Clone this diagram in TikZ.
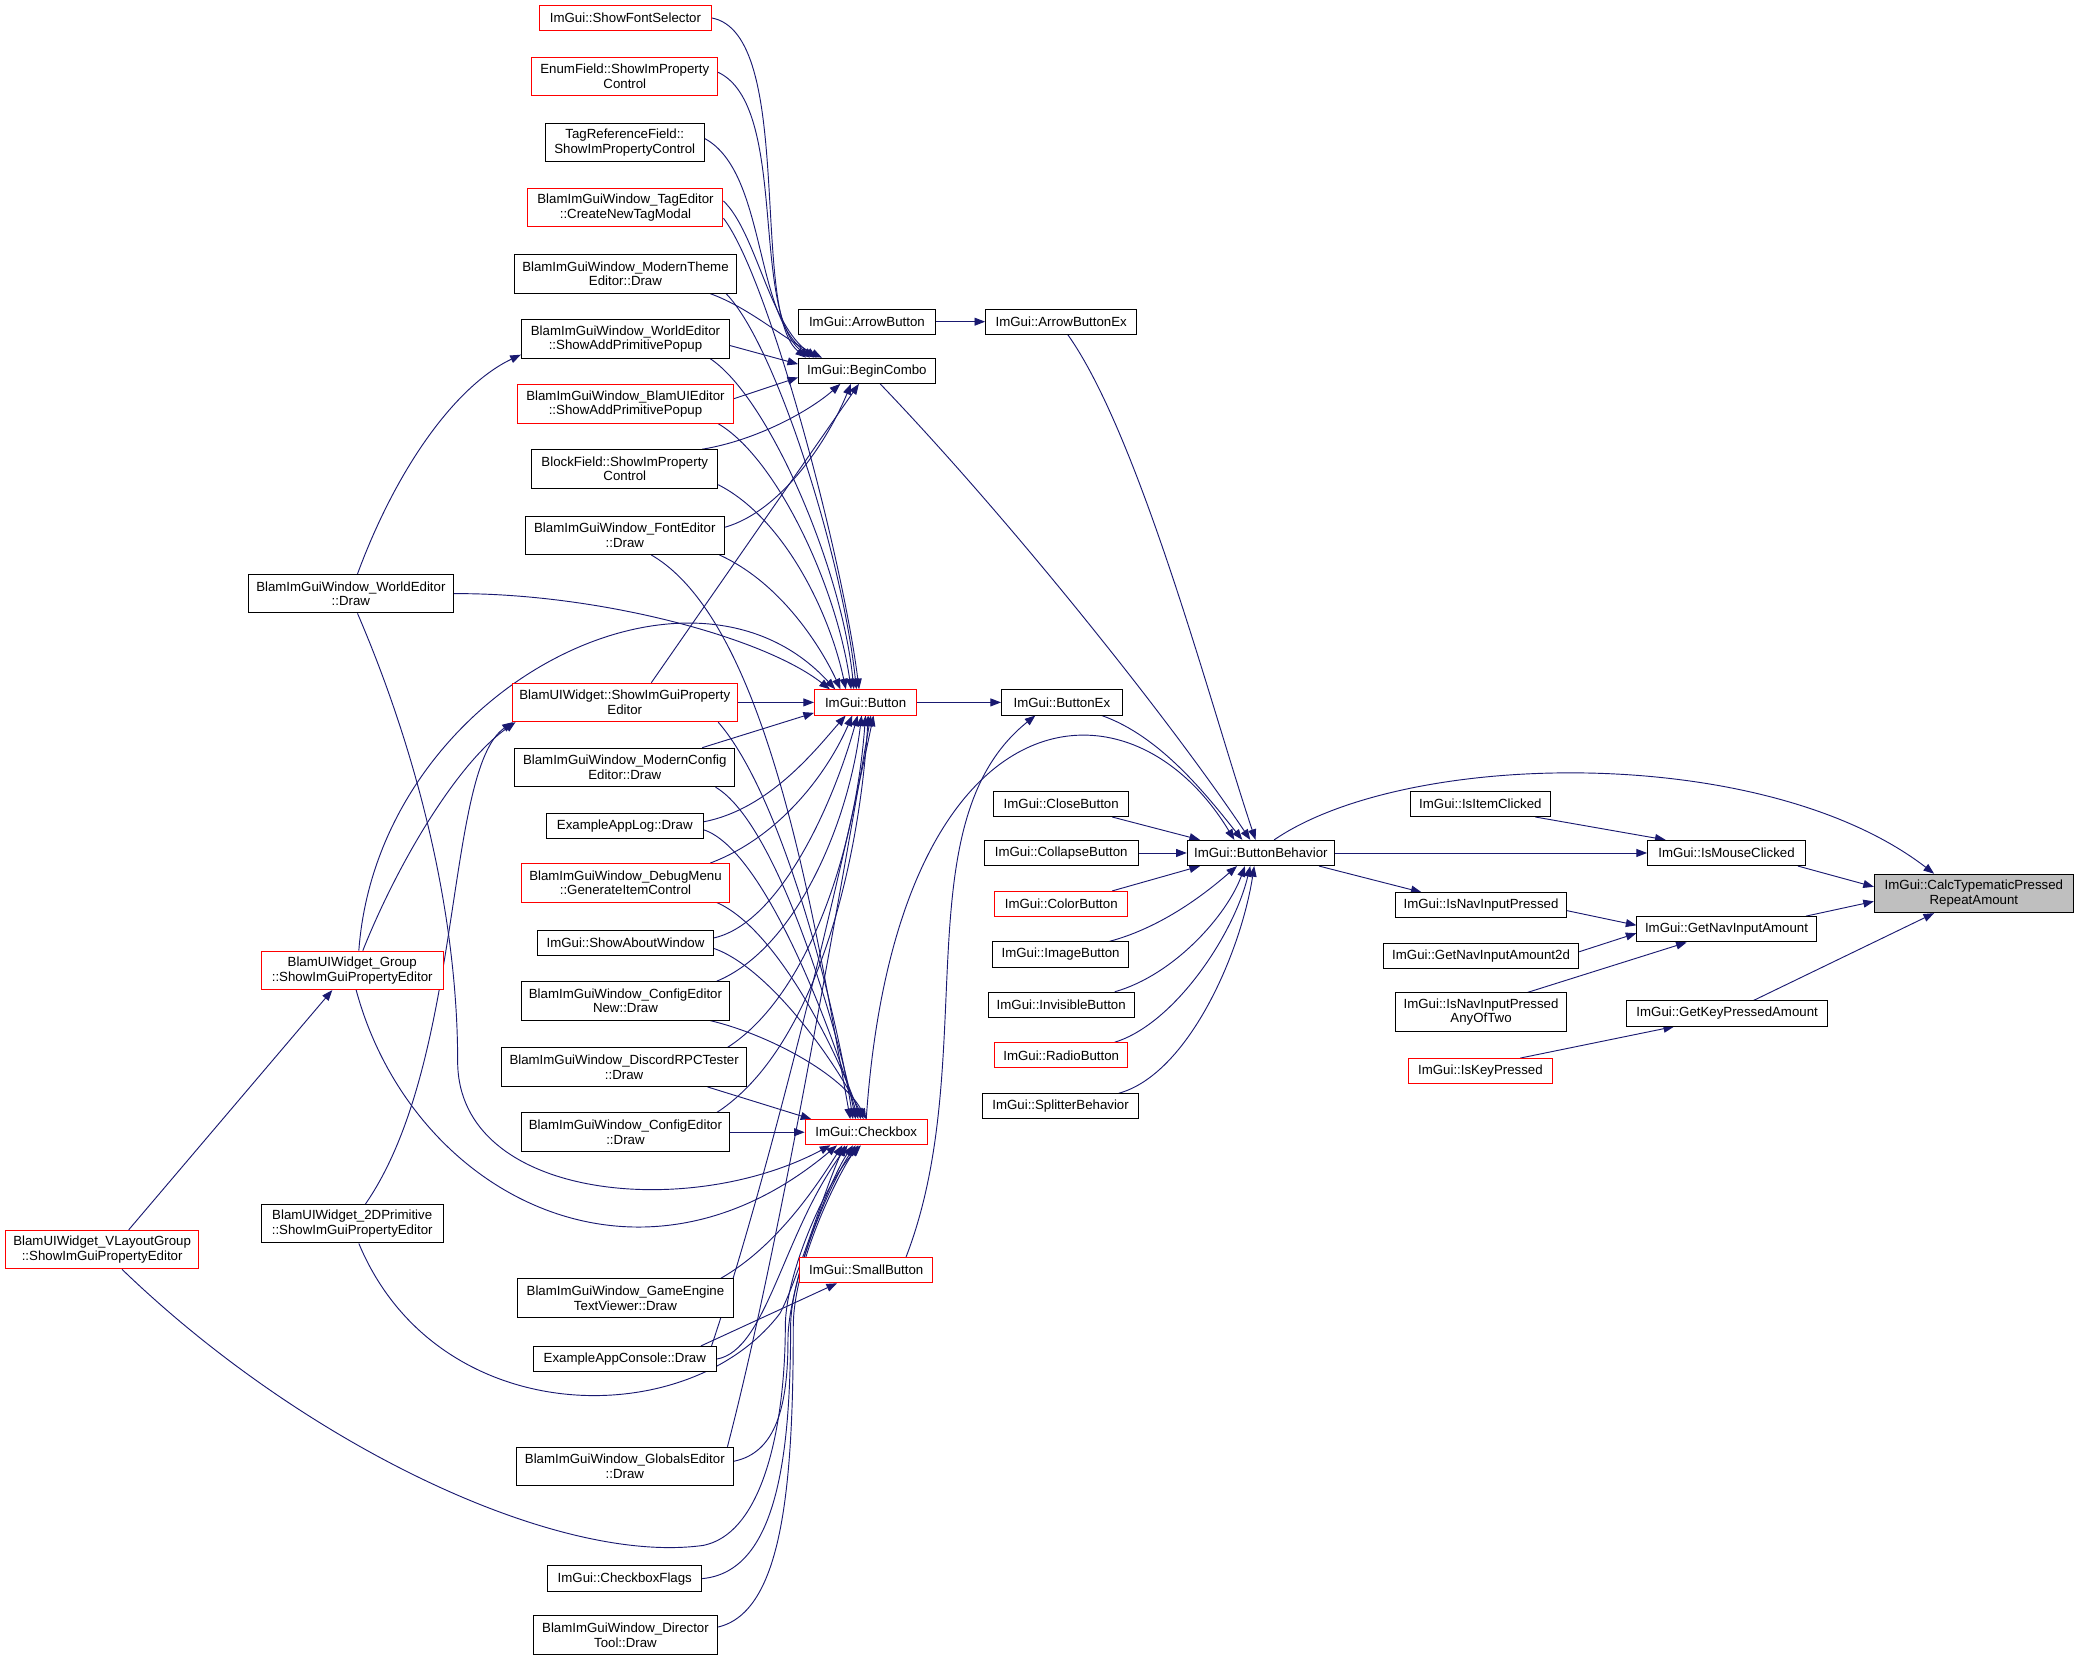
\documentclass[tikz,border=0pt]{standalone}
\usepackage{fontspec}
\setmainfont{Liberation Sans}
\usetikzlibrary{arrows.meta,backgrounds}
\tikzset{>={Triangle[length=8pt,width=6pt]}}
\definecolor{edgeblue}{HTML}{191970}
\definecolor{rootgray}{HTML}{BFBFBF}

\begin{document}
\begin{tikzpicture}[x=1pt,y=-1pt]
\tikzset{
  fn/.style={
    draw=black,
    line width=0.75pt,
    fill=white,
    align=center,
    inner sep=0pt,
    minimum height=19pt,
    font=\fontsize{10}{11}\selectfont
  },
  fnn/.style={fn, minimum height=29pt},
  trunc/.style={draw=red},
  root/.style={fill=rootgray}
};

\tikzstyle{call}=[->,draw=edgeblue,line width=0.7pt]

\useasboundingbox (0,0) rectangle (1568,1253.6);

 \node[fnn,root,minimum width=150pt] (calc) at (1488,673.5) {ImGui::CalcTypematicPressed\\RepeatAmount};
 \node[fn,minimum width=119pt] (mouse) at (1301.5,643) {ImGui::IsMouseClicked};
 \node[fn,minimum width=135pt] (navamt) at (1301.5,700.5) {ImGui::GetNavInputAmount};
 \node[fn,minimum width=152pt] (keyamt) at (1302,764) {ImGui::GetKeyPressedAmount};

 \node[fn,minimum width=106pt] (itemclk) at (1116,606) {ImGui::IsItemClicked};
 \node[fn,minimum width=129pt] (navpress) at (1116.5,682.5) {ImGui::IsNavInputPressed};
 \node[fn,minimum width=147pt] (navtwod) at (1116.5,720.5) {ImGui::GetNavInputAmount2d};
 \node[fnn,minimum width=129pt] (anyoftwo) at (1116.5,763) {ImGui::IsNavInputPressed\\AnyOfTwo};
 \node[fn,trunc,minimum width=108pt] (keypress) at (1116,807.5) {ImGui::IsKeyPressed};

 \node[fn,minimum width=111pt] (behavior) at (950.5,643) {ImGui::ButtonBehavior};

 \node[fn,minimum width=114pt] (arrowex) at (800,242.5) {ImGui::ArrowButtonEx};
 \node[fn,minimum width=91pt] (buttonex) at (800.5,529.5) {ImGui::ButtonEx};
 \node[fn,minimum width=102pt] (closeb) at (800,606) {ImGui::CloseButton};
 \node[fn,minimum width=116pt] (collapse) at (800,643) {ImGui::CollapseButton};
 \node[fn,trunc,minimum width=100pt] (colorb) at (800,681.5) {ImGui::ColorButton};
 \node[fn,minimum width=103pt] (imageb) at (799.5,719.5) {ImGui::ImageButton};
 \node[fn,minimum width=110pt] (invis) at (800,757.5) {ImGui::InvisibleButton};
 \node[fn,trunc,minimum width=100pt] (radio) at (800,795.5) {ImGui::RadioButton};
 \node[fn,minimum width=117pt] (splitter) at (799.5,834) {ImGui::SplitterBehavior};

 \node[fn,minimum width=103pt] (arrowb) at (653.5,242.5) {ImGui::ArrowButton};
 \node[fn,minimum width=103pt] (combo) at (653.5,279.5) {ImGui::BeginCombo};
 \node[fn,trunc,minimum width=77pt] (button) at (652.5,529.5) {ImGui::Button};
 \node[fn,trunc,minimum width=92pt] (checkbox) at (653,853.5) {ImGui::Checkbox};
 \node[fn,trunc,minimum width=100pt] (small) at (653,957.5) {ImGui::SmallButton};

 \node[fn,trunc,minimum width=129pt] (fontsel) at (471.5,13.5) {ImGui::ShowFontSelector};
 \node[fnn,trunc,minimum width=140pt] (enumf) at (471,57.5) {EnumField::ShowImProperty\\Control};
 \node[fnn,minimum width=120pt] (tagref) at (471,107.5) {TagReferenceField::\\ShowImPropertyControl};
 \node[fnn,trunc,minimum width=147pt] (tagedit) at (471.5,156.5) {BlamImGuiWindow\_TagEditor\\::CreateNewTagModal};
 \node[fnn,minimum width=167pt] (theme) at (471.5,206.5) {BlamImGuiWindow\_ModernTheme\\Editor::Draw};
 \node[fnn,minimum width=157pt] (wedpopup) at (471.5,255.5) {BlamImGuiWindow\_WorldEditor\\::ShowAddPrimitivePopup};
 \node[fnn,trunc,minimum width=163pt] (uipopup) at (471.5,304.5) {BlamImGuiWindow\_BlamUIEditor\\::ShowAddPrimitivePopup};
 \node[fnn,minimum width=140pt] (block) at (471,353.5) {BlockField::ShowImProperty\\Control};
 \node[fnn,minimum width=150pt] (fonted) at (471,403.5) {BlamImGuiWindow\_FontEditor\\::Draw};
 \node[fnn,trunc,minimum width=170pt] (widget) at (471,529.5) {BlamUIWidget::ShowImGuiProperty\\Editor};
 \node[fnn,minimum width=166pt] (mconfig) at (471,578.5) {BlamImGuiWindow\_ModernConfig\\Editor::Draw};
 \node[fn,minimum width=118pt] (applog) at (471,622.5) {ExampleAppLog::Draw};
 \node[fnn,trunc,minimum width=157pt] (debugm) at (471.5,665.5) {BlamImGuiWindow\_DebugMenu\\::GenerateItemControl};
 \node[fn,minimum width=133pt] (about) at (471.5,711) {ImGui::ShowAboutWindow};
 \node[fnn,minimum width=157pt] (cfgnew) at (471.5,754.5) {BlamImGuiWindow\_ConfigEditor\\New::Draw};
 \node[fnn,minimum width=185pt] (discord) at (470.5,804.5) {BlamImGuiWindow\_DiscordRPCTester\\::Draw};
 \node[fnn,minimum width=157pt] (cfged) at (471.5,853.5) {BlamImGuiWindow\_ConfigEditor\\::Draw};
 \node[fnn,minimum width=163pt] (textview) at (471.5,978.5) {BlamImGuiWindow\_GameEngine\\TextViewer::Draw};
 \node[fn,minimum width=138pt] (console) at (471,1024.5) {ExampleAppConsole::Draw};
 \node[fnn,minimum width=164pt] (globals) at (471,1105.5) {BlamImGuiWindow\_GlobalsEditor\\::Draw};
 \node[fn,minimum width=116pt] (cbflags) at (471,1190) {ImGui::CheckboxFlags};
 \node[fnn,minimum width=139pt] (director) at (471.5,1232.5) {BlamImGuiWindow\_Director\\Tool::Draw};

 \node[fnn,minimum width=155pt] (wedraw) at (264.5,447.5) {BlamImGuiWindow\_WorldEditor\\::Draw};
 \node[fnn,trunc,minimum width=137pt] (group) at (265.5,731.5) {BlamUIWidget\_Group\\::ShowImGuiPropertyEditor};
 \node[fnn,minimum width=137pt] (prim) at (265.5,922.5) {BlamUIWidget\_2DPrimitive\\::ShowImGuiPropertyEditor};
 \node[fnn,trunc,minimum width=146pt] (vlayout) at (77,942) {BlamUIWidget\_VLayoutGroup\\::ShowImGuiPropertyEditor};

\begin{scope}[on background layer]
  \draw[call] ([xshift=-6pt]mouse.south east) -- ([yshift=5pt]calc.west);
  \draw[call] ([xshift=-8pt]navamt.north east) -- ([yshift=-6pt]calc.west);
  \draw[call] ([xshift=20pt]keyamt.north) -- ([xshift=-30pt]calc.south);
  \draw[call] ([xshift=10pt]behavior.north) .. controls (1060,565) and (1330,560) .. ([xshift=-30pt]calc.north);
  \draw[call] ([xshift=-12pt]itemclk.south east) -- ([xshift=14pt]mouse.north west);
  \draw[call] (behavior.east) -- (mouse.west);
  \draw[call] ([xshift=-12pt]behavior.south east) -- ([xshift=20pt]navpress.north west);
  \draw[call] ([yshift=-4pt]navpress.east) -- ([yshift=3pt]navamt.west);
  \draw[call] ([yshift=3pt]navtwod.east) -- ([yshift=-3pt]navamt.west);
  \draw[call] ([xshift=35pt]anyoftwo.north) -- ([xshift=-30pt]navamt.south);
  \draw[call] ([xshift=30pt]keypress.north) -- ([xshift=-40pt]keyamt.south);

  \draw[call] ([xshift=5pt]arrowex.south) .. controls (860,330) and (915,540) .. ([xshift=-4pt]behavior.north);
  \draw[call] ([xshift=10pt]combo.south) .. controls (760,390) and (880,540) .. ([xshift=-8pt]behavior.north);
  \draw[call] ([xshift=30pt]buttonex.south) .. controls (875,555) and (910,600) .. ([xshift=-14pt]behavior.north);
  \draw[call] (checkbox.north) .. controls (675,520) and (850,500) .. ([xshift=-20pt]behavior.north);
  \draw[call] ([xshift=-13pt]closeb.south east) -- ([xshift=10pt]behavior.north west);
  \draw[call] (collapse.east) -- (behavior.west);
  \draw[call] ([xshift=-12pt]colorb.north east) -- ([xshift=10pt]behavior.south west);
  \draw[call] ([xshift=-15pt]imageb.north east) .. controls (880,698) and (915,668) .. ([xshift=-18pt]behavior.south);
  \draw[call] ([xshift=-15pt]invis.north east) .. controls (885,735) and (925,690) .. ([xshift=-12pt]behavior.south);
  \draw[call] ([xshift=-10pt]radio.north east) .. controls (885,772) and (930,705) .. ([xshift=-8pt]behavior.south);
  \draw[call] ([xshift=-15pt]splitter.north east) .. controls (895,810) and (935,720) .. ([xshift=-5pt]behavior.south);
  \draw[call] (arrowb.east) -- (arrowex.west);
  \draw[call] (button.east) -- (buttonex.west);
  \draw[call] ([xshift=30pt]small.north) .. controls (740,800) and (680,620) .. ([xshift=-20pt]buttonex.south);

  \draw[call] (fontsel.east) .. controls (600,25) and (565,235) .. ([xshift=6pt]combo.north west);
  \draw[call] ([yshift=3pt]enumf.east) .. controls (595,80) and (565,235) .. ([xshift=9pt]combo.north west);
  \draw[call] ([yshift=3pt]tagref.east) .. controls (578,130) and (568,238) .. ([xshift=12pt]combo.north west);
  \draw[call] ([yshift=5pt]tagedit.east) .. controls (570,175) and (580,245) .. ([xshift=14pt]combo.north west);
  \draw[call] ([xshift=-20pt]theme.south east) .. controls (565,232) and (590,255) .. ([xshift=18pt]combo.north west);
  \draw[call] ([yshift=-5pt]wedpopup.east) -- ([yshift=5pt]combo.west);
  \draw[call] ([yshift=4pt]uipopup.east) -- ([yshift=-5pt]combo.west);
  \draw[call] ([xshift=-12pt]block.north east) .. controls (570,332) and (610,310) .. ([xshift=-20pt]combo.south);
  \draw[call] ([yshift=6pt]fonted.east) .. controls (590,385) and (625,330) .. ([xshift=-12pt]combo.south);
  \draw[call] ([xshift=20pt]widget.north) -- ([xshift=-6pt]combo.south);

  \draw[call] ([yshift=-8pt]tagedit.east) .. controls (580,210) and (635,420) .. ([xshift=34pt]button.north west);
  \draw[call] ([xshift=-8pt]theme.south east) .. controls (585,260) and (635,420) .. ([xshift=32pt]button.north west);
  \draw[call] ([xshift=-15pt]wedpopup.south east) .. controls (580,300) and (635,430) .. ([xshift=30pt]button.north west);
  \draw[call] ([xshift=-12pt]uipopup.south east) .. controls (585,345) and (630,440) .. ([xshift=28pt]button.north west);
  \draw[call] ([yshift=3pt]block.south east) .. controls (590,390) and (625,460) .. ([xshift=24pt]button.north west);
  \draw[call] ([xshift=-4pt]fonted.south east) .. controls (590,440) and (620,490) .. ([xshift=20pt]button.north west);
  \draw[call] (wedraw.east) .. controls (450,447) and (575,480) .. ([xshift=12pt]button.north west);
  \draw[call] ([xshift=5pt]group.north) .. controls (285,520) and (520,400) .. ([xshift=16pt]button.north west);
  \draw[call] (widget.east) -- (button.west);
  \draw[call] ([xshift=-25pt]mconfig.north east) -- ([yshift=2pt]button.south west);
  \draw[call] ([yshift=3pt]applog.east) .. controls (580,610) and (615,565) .. ([xshift=-15pt]button.south);
  \draw[call] ([xshift=-15pt]debugm.north east) .. controls (590,630) and (625,580) .. ([xshift=-10pt]button.south);
  \draw[call] ([yshift=4pt]about.east) .. controls (590,695) and (630,600) .. ([xshift=-6pt]button.south);
  \draw[call] ([xshift=-10pt]cfgnew.north east) .. controls (600,715) and (640,620) .. ([xshift=-3pt]button.south);
  \draw[call] ([xshift=-15pt]discord.north east) .. controls (610,750) and (645,640) .. (button.south);
  \draw[call] ([xshift=-10pt]cfged.north east) .. controls (615,790) and (648,650) .. ([xshift=2pt]button.south);
  \draw[call] ([xshift=-4pt]console.north east) .. controls (575,900) and (625,700) .. ([xshift=6pt]button.south);
  \draw[call] ([xshift=-5pt]globals.north east) .. controls (585,950) and (625,720) .. ([xshift=4pt]button.south);

  \draw[call] ([xshift=5pt]wedraw.north) .. controls (300,350) and (345,290) .. ([yshift=3pt]wedpopup.south west);
  \draw[call] ([xshift=8pt]group.north) .. controls (300,650) and (345,575) .. ([xshift=3pt]widget.south west);
  \draw[call] ([xshift=10pt]prim.north) .. controls (350,800) and (335,580) .. ([xshift=1pt]widget.south west);
  \draw[call] ([xshift=20pt]vlayout.north) -- ([xshift=-15pt]group.south);

  \draw[call] ([xshift=20pt]fonted.south) .. controls (580,470) and (615,700) .. ([xshift=-12pt]checkbox.north);
  \draw[call] ([xshift=-15pt]widget.south east) .. controls (590,600) and (630,760) .. ([xshift=-10pt]checkbox.north);
  \draw[call] ([xshift=-15pt]mconfig.south east) .. controls (585,620) and (630,770) .. ([xshift=-8pt]checkbox.north);
  \draw[call] ([yshift=-3pt]applog.east) .. controls (575,640) and (625,770) .. ([xshift=-6pt]checkbox.north);
  \draw[call] ([xshift=-10pt]debugm.south east) .. controls (585,700) and (630,790) .. ([xshift=-4pt]checkbox.north);
  \draw[call] ([yshift=-4pt]about.east) .. controls (580,730) and (630,800) .. ([xshift=-2pt]checkbox.north);
  \draw[call] ([xshift=-15pt]cfgnew.south east) .. controls (580,780) and (635,810) .. (checkbox.north);
  \draw[call] ([xshift=-30pt]discord.south east) -- ([xshift=5pt]checkbox.north west);
  \draw[call] (cfged.east) -- (checkbox.west);

  \draw[call] ([xshift=5pt]wedraw.south) .. controls (320,580) and (345,700) .. (345,800) .. controls (345,905) and (520,920) .. ([xshift=-27pt]checkbox.south);
  \draw[call] ([xshift=3pt]group.south) .. controls (310,900) and (480,990) .. ([xshift=-22pt]checkbox.south);
  \draw[call] ([xshift=-10pt]textview.north east) .. controls (585,940) and (615,895) .. ([xshift=-18pt]checkbox.south);
  \draw[call] (console.east) .. controls (578,1018) and (590,930) .. ([xshift=-14pt]checkbox.south);
  \draw[call] ([xshift=5pt]prim.south) .. controls (330,1080) and (520,1080) .. (588,990) .. controls (600,968) and (622,895) .. ([xshift=-16pt]checkbox.south);
  \draw[call] ([yshift=4pt]globals.east) .. controls (585,1095) and (594,1060) .. (594,1010) .. controls (594,970) and (625,890) .. ([xshift=-10pt]checkbox.south);
  \draw[call] (cbflags.east) .. controls (585,1185) and (596,1100) .. (596,1000) .. controls (596,960) and (627,890) .. ([xshift=-8pt]checkbox.south);
  \draw[call] ([yshift=6pt]director.east) .. controls (590,1215) and (598,1120) .. (598,1000) .. controls (598,955) and (629,890) .. ([xshift=-6pt]checkbox.south);
  \draw[call] ([xshift=15pt]vlayout.south) .. controls (230,1090) and (420,1180) .. (530,1165) .. controls (580,1155) and (592,1060) .. (592,1000) .. controls (592,960) and (623,890) .. ([xshift=-4pt]checkbox.south);
  \draw[call] ([xshift=-12pt]console.north east) -- ([xshift=-22pt]small.south);
\end{scope}
\end{tikzpicture}
\end{document}
